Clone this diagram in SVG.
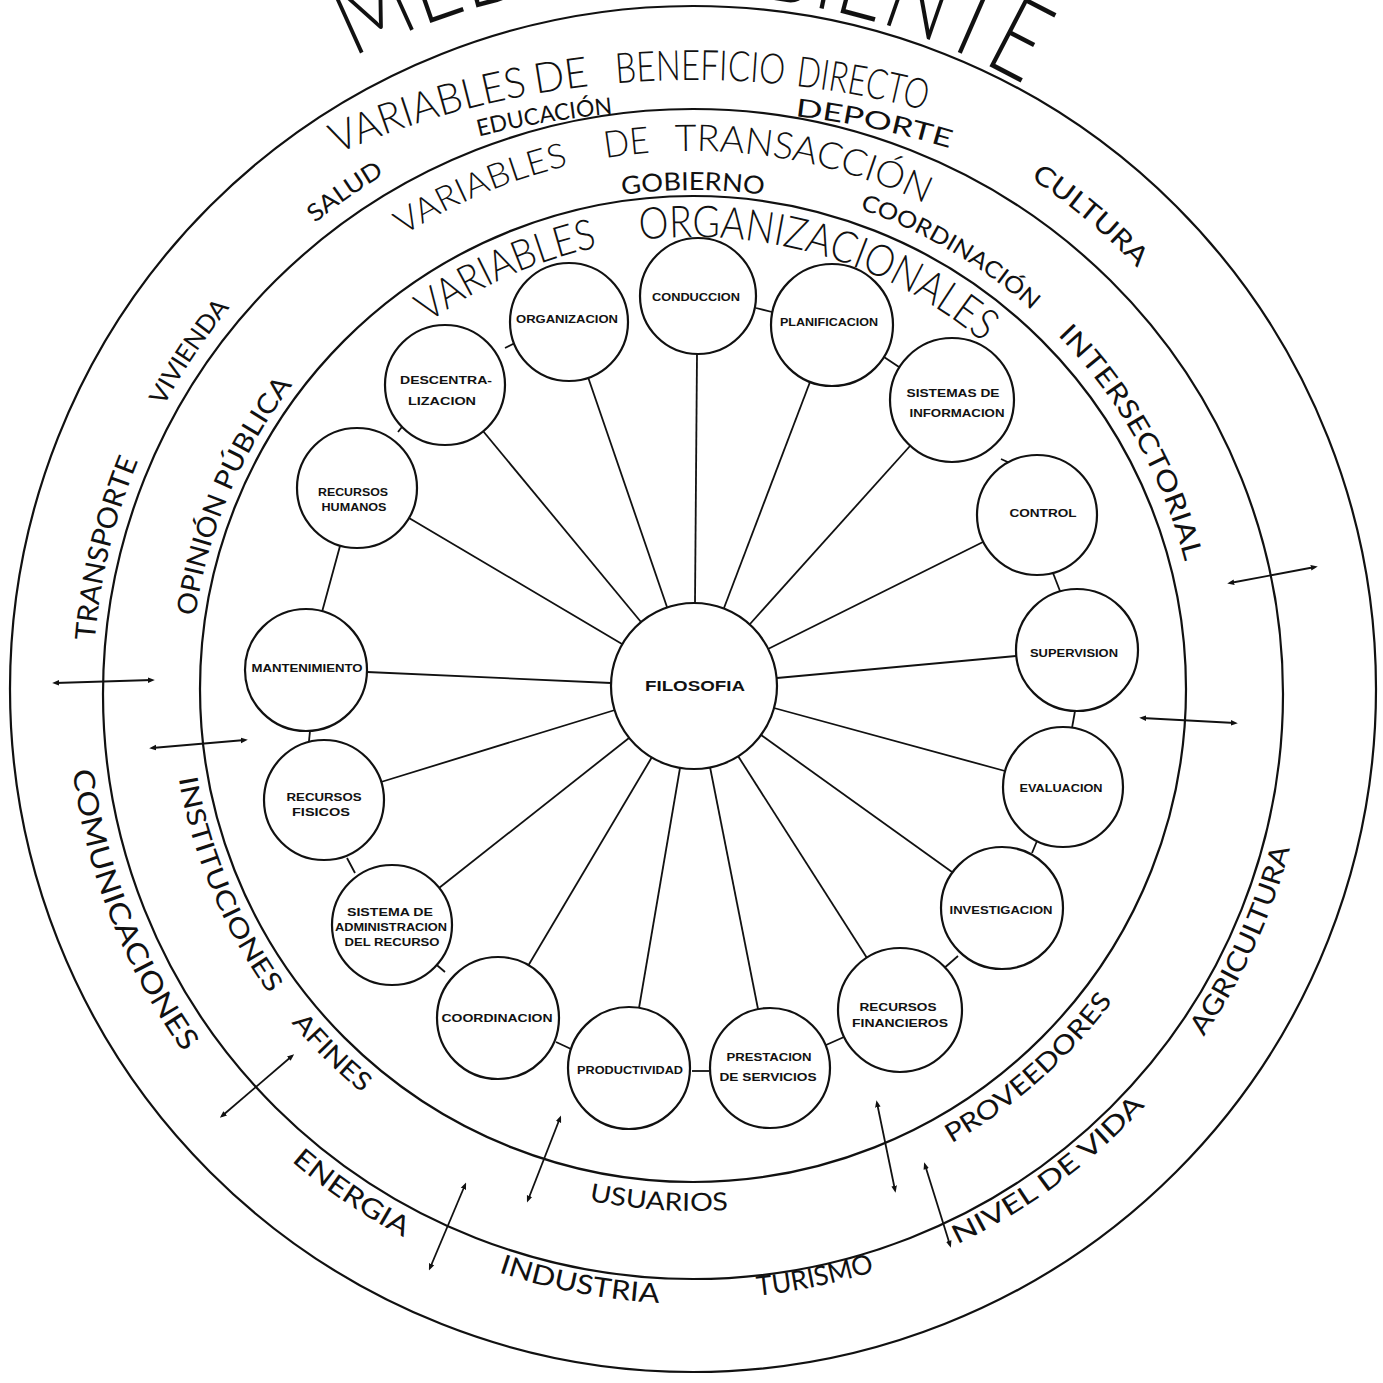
<svg xmlns="http://www.w3.org/2000/svg" width="1383" height="1383" viewBox="0 0 1383 1383">
  <style>
    .ring { fill: none; stroke: #111; stroke-width: 2.2; }
    .node circle { fill: #fff; stroke: #111; stroke-width: 2.2; }
    .lbl { font-family: 'Liberation Sans', Arial, sans-serif; font-weight: bold; font-size: 11px; fill: #111; text-anchor: middle; }
    .hub { font-size: 14px; }
    .arc { font-family: Lato, 'DejaVu Sans', 'Liberation Sans', sans-serif; font-weight: 400; fill: #111; text-anchor: middle; }
    .head { font-weight: 300; }
    .links line { stroke: #111; stroke-width: 1.8; fill: none; }
    .flows line { stroke: #111; stroke-width: 1.8; fill: none; marker-start: url(#tip); marker-end: url(#tip); }
  </style>
  <defs>
    <marker id="tip" viewBox="0 0 10 10" refX="6" refY="5" markerWidth="7" markerHeight="7" markerUnits="userSpaceOnUse" orient="auto-start-reverse">
      <path d="M0,1 L10,5 L0,9 z" fill="#111"/>
    </marker>
    <!-- clockwise guides: letters stand outward -->
    <path id="p-title" d="M -8.0 505.8 A 712 712 0 0 1 1367.4 505.8"/>
    <path id="p-title2" d="M -13.0 520.8 A 712 712 0 0 1 1362.4 520.8"/>
    <path id="p-benef" d="M -82.1 527.5 A 895 895 0 0 1 1468.1 527.5"/>
    <path id="p-top2" d="M -164.7 768.2 A 888 888 0 0 1 1550.7 768.2"/>
    <path id="p-salud" d="M 129.2 894.2 A 600 600 0 0 1 1078.7 229.4"/>
    <path id="p-cult" d="M 342.0 187.6 A 612 612 0 0 1 1247.7 947.6"/>
    <path id="p-transp" d="M 406.7 1216.3 A 600 600 0 0 1 677.3 89.2"/>
    <path id="p-viv" d="M 241.6 1084.2 A 600 600 0 0 1 886.4 121.0"/>
    <path id="p-trans" d="M 165.8 581.7 A 538 538 0 0 1 1203.2 518.3"/>
    <path id="p-gob" d="M 211.0 559.9 A 499 499 0 0 1 1175.0 559.9"/>
    <path id="p-coord" d="M 336.9 326.6 A 508 508 0 0 1 1182.5 824.7"/>
    <path id="p-inter" d="M 567.1 196.8 A 508 508 0 0 1 1048.1 1052.3"/>
    <path id="p-opin" d="M 384.7 1086.5 A 503 503 0 0 1 761.3 190.7"/>
    <path id="p-org" d="M 259.6 560.6 A 452 452 0 0 1 1132.5 583.5"/>
    <!-- counter-clockwise guides: letters stand inward -->
    <path id="p-comun" d="M 324.2 190.6 A 618 618 0 0 0 763.2 1305.0"/>
    <path id="p-energ" d="M 107.2 486.1 A 620 620 0 0 0 1098.9 1157.7"/>
    <path id="p-indus" d="M 79.7 734.0 A 615 615 0 0 0 1246.7 956.6"/>
    <path id="p-turis" d="M 148.0 963.1 A 610 610 0 0 0 1302.0 724.1"/>
    <path id="p-nivel" d="M 309.3 1169.6 A 615 615 0 0 0 1265.6 464.6"/>
    <path id="p-agri" d="M 589.9 1298.3 A 618 618 0 0 0 1086.9 212.8"/>
    <path id="p-inst" d="M 373.1 276.5 A 522 522 0 0 0 763.8 1206.2"/>
    <path id="p-afin" d="M 240.0 429.6 A 522 522 0 0 0 955.6 1140.2"/>
    <path id="p-usu" d="M 180.9 790.4 A 522 522 0 0 0 1187.1 857.2"/>
    <path id="p-prov" d="M 404.4 1125.1 A 523 523 0 0 0 1161.0 455.6"/>
  </defs>

  <rect width="1383" height="1383" fill="#fff"/>

  <!-- the three environment rings -->
  <g id="rings">
    <circle class="ring" cx="693" cy="689" r="683"/>
    <ellipse class="ring" cx="693" cy="694" rx="590" ry="585"/>
    <circle class="ring" cx="693" cy="689" r="493"/>
  </g>

  <!-- lettering set along the rings -->
  <g id="ring-labels">
    <!-- title above the outer ring -->
    <text class="arc head" font-size="110"><textPath href="#p-title" startOffset="730.7" textLength="278" lengthAdjust="spacingAndGlyphs">MEDIO</textPath></text>
    <text class="arc head" font-size="110"><textPath href="#p-title2" startOffset="1092" textLength="410" lengthAdjust="spacingAndGlyphs">AMBIENTE</textPath></text>

    <!-- outer ring: direct benefit -->
    <text class="arc head" font-size="42"><textPath href="#p-benef" startOffset="671.1" textLength="200" lengthAdjust="spacingAndGlyphs">VARIABLES</textPath></text>
    <text class="arc head" font-size="42"><textPath href="#p-benef" startOffset="806.2" textLength="54" lengthAdjust="spacingAndGlyphs">DE</textPath></text>
    <text class="arc head" font-size="42"><textPath href="#p-benef" startOffset="944.3" textLength="168" lengthAdjust="spacingAndGlyphs">BENEFICIO</textPath></text>
    <text class="arc head" font-size="42"><textPath href="#p-benef" startOffset="1105.7" textLength="132" lengthAdjust="spacingAndGlyphs">DIRECTO</textPath></text>
    <text class="arc" font-size="23"><textPath href="#p-top2" startOffset="1013.7" textLength="136" lengthAdjust="spacingAndGlyphs">EDUCACIÓN</textPath></text>
    <text class="arc" font-size="25"><textPath href="#p-top2" startOffset="1343.5" textLength="158" lengthAdjust="spacingAndGlyphs">DEPORTE</textPath></text>
    <text class="arc" font-size="24"><textPath href="#p-salud" startOffset="50%" textLength="85" lengthAdjust="spacingAndGlyphs">SALUD</textPath></text>
    <text class="arc" font-size="27"><textPath href="#p-cult" startOffset="50%" textLength="140" lengthAdjust="spacingAndGlyphs">CULTURA</textPath></text>
    <text class="arc" font-size="28"><textPath href="#p-transp" startOffset="50%" textLength="186" lengthAdjust="spacingAndGlyphs">TRANSPORTE</textPath></text>
    <text class="arc" font-size="25"><textPath href="#p-viv" startOffset="50%" textLength="119" lengthAdjust="spacingAndGlyphs">VIVIENDA</textPath></text>
    <text class="arc" font-size="29"><textPath href="#p-comun" startOffset="50%" textLength="306" lengthAdjust="spacingAndGlyphs">COMUNICACIONES</textPath></text>
    <text class="arc" font-size="27"><textPath href="#p-energ" startOffset="50%" textLength="136" lengthAdjust="spacingAndGlyphs">ENERGIA</textPath></text>
    <text class="arc" font-size="27"><textPath href="#p-indus" startOffset="50%" textLength="164" lengthAdjust="spacingAndGlyphs">INDUSTRIA</textPath></text>
    <text class="arc" font-size="27"><textPath href="#p-turis" startOffset="50%" textLength="120" lengthAdjust="spacingAndGlyphs">TURISMO</textPath></text>
    <text class="arc" font-size="26"><textPath href="#p-nivel" startOffset="50%" textLength="235" lengthAdjust="spacingAndGlyphs">NIVEL DE VIDA</textPath></text>
    <text class="arc" font-size="27"><textPath href="#p-agri" startOffset="50%" textLength="208" lengthAdjust="spacingAndGlyphs">AGRICULTURA</textPath></text>

    <!-- middle ring: transactions -->
    <text class="arc head" font-size="34"><textPath href="#p-trans" startOffset="521.1" textLength="180" lengthAdjust="spacingAndGlyphs">VARIABLES</textPath></text>
    <text class="arc head" font-size="37"><textPath href="#p-trans" startOffset="671.4" textLength="45" lengthAdjust="spacingAndGlyphs">DE</textPath></text>
    <text class="arc head" font-size="37"><textPath href="#p-trans" startOffset="847.9" textLength="258" lengthAdjust="spacingAndGlyphs">TRANSACCIÓN</textPath></text>
    <text class="arc" font-size="25"><textPath href="#p-gob" startOffset="50%" textLength="142" lengthAdjust="spacingAndGlyphs">GOBIERNO</textPath></text>
    <text class="arc" font-size="23"><textPath href="#p-coord" startOffset="50%" textLength="201" lengthAdjust="spacingAndGlyphs">COORDINACIÓN</textPath></text>
    <text class="arc" font-size="27"><textPath href="#p-inter" startOffset="50%" textLength="263" lengthAdjust="spacingAndGlyphs">INTERSECTORIAL</textPath></text>
    <text class="arc" font-size="27"><textPath href="#p-opin" startOffset="592.1" textLength="122" lengthAdjust="spacingAndGlyphs">OPINIÓN</textPath></text>
    <text class="arc" font-size="27"><textPath href="#p-opin" startOffset="722.9" textLength="124" lengthAdjust="spacingAndGlyphs">PÚBLICA</textPath></text>
    <text class="arc" font-size="26"><textPath href="#p-inst" startOffset="50%" textLength="236" lengthAdjust="spacingAndGlyphs">INSTITUCIONES</textPath></text>
    <text class="arc" font-size="26"><textPath href="#p-afin" startOffset="50%" textLength="100" lengthAdjust="spacingAndGlyphs">AFINES</textPath></text>
    <text class="arc" font-size="25"><textPath href="#p-usu" startOffset="50%" textLength="140" lengthAdjust="spacingAndGlyphs">USUARIOS</textPath></text>
    <text class="arc" font-size="26"><textPath href="#p-prov" startOffset="50%" textLength="217" lengthAdjust="spacingAndGlyphs">PROVEEDORES</textPath></text>

    <!-- inner ring: organisation -->
    <text class="arc head" font-size="42"><textPath href="#p-org" startOffset="390.1" textLength="187" lengthAdjust="spacingAndGlyphs">VARIABLES</textPath></text>
    <text class="arc head" font-size="44"><textPath href="#p-org" startOffset="710.4" textLength="368" lengthAdjust="spacingAndGlyphs">ORGANIZACIONALES</textPath></text>
  </g>

  <!-- connectors: spokes from the hub, links around the wheel, exchanges across the rings -->
  <g id="connectors">
    <g class="links">
      <!-- spokes -->
      <line x1="697" y1="354" x2="695" y2="603"/>
      <line x1="588" y1="377" x2="667" y2="607"/>
      <line x1="483" y1="431" x2="641" y2="622"/>
      <line x1="409" y1="518" x2="622" y2="644"/>
      <line x1="367" y1="672" x2="611" y2="683"/>
      <line x1="381" y1="782" x2="615" y2="710"/>
      <line x1="439" y1="888" x2="629" y2="738"/>
      <line x1="528" y1="966" x2="652" y2="757"/>
      <line x1="639" y1="1008" x2="680" y2="768"/>
      <line x1="758" y1="1009" x2="710" y2="767"/>
      <line x1="867" y1="958" x2="738" y2="756"/>
      <line x1="952" y1="872" x2="761" y2="735"/>
      <line x1="1005" y1="771" x2="774" y2="708"/>
      <line x1="1016" y1="656" x2="777" y2="678"/>
      <line x1="983" y1="542" x2="768" y2="649"/>
      <line x1="910" y1="446" x2="750" y2="624"/>
      <line x1="810" y1="382" x2="724" y2="608"/>
      <!-- links between neighbouring nodes -->
      <line x1="756" y1="308" x2="772" y2="312"/>
      <line x1="884" y1="357" x2="899" y2="367"/>
      <line x1="1001" y1="459" x2="1012" y2="464"/>
      <line x1="1053" y1="573" x2="1060" y2="591"/>
      <line x1="1075" y1="711" x2="1072" y2="728"/>
      <line x1="1037" y1="841" x2="1032" y2="853"/>
      <line x1="958" y1="956" x2="942" y2="970"/>
      <line x1="844" y1="1037" x2="826" y2="1045"/>
      <line x1="709" y1="1071" x2="692" y2="1071"/>
      <line x1="571" y1="1049" x2="556" y2="1042"/>
      <line x1="445" y1="972" x2="432" y2="961"/>
      <line x1="355" y1="873" x2="347" y2="858"/>
      <line x1="310" y1="731" x2="309" y2="741"/>
      <line x1="322" y1="612" x2="340" y2="546"/>
      <line x1="398" y1="432" x2="405" y2="423"/>
      <line x1="505" y1="348" x2="515" y2="343"/>
    </g>
    <g class="flows">
      <line x1="55" y1="683" x2="152" y2="680"/>
      <line x1="152" y1="748" x2="245" y2="740"/>
      <line x1="222" y1="1116" x2="292" y2="1056"/>
      <line x1="430" y1="1268" x2="465" y2="1185"/>
      <line x1="528" y1="1200" x2="560" y2="1118"/>
      <line x1="877" y1="1103" x2="895" y2="1190"/>
      <line x1="925" y1="1165" x2="950" y2="1245"/>
      <line x1="1230" y1="583" x2="1315" y2="567"/>
      <line x1="1142" y1="718" x2="1235" y2="723"/>
    </g>
  </g>

  <!-- hub -->
  <g id="n-filosofia" class="node">
    <circle cx="694" cy="686" r="83"/>
    <text class="lbl hub" x="695" y="691" textLength="100" lengthAdjust="spacingAndGlyphs">FILOSOFIA</text>
  </g>

  <!-- organisational variables -->
  <g id="n-conduccion" class="node">
    <circle cx="698" cy="296" r="58"/>
    <text class="lbl" x="696" y="301" textLength="88" lengthAdjust="spacingAndGlyphs">CONDUCCION</text>
  </g>
  <g id="n-organizacion" class="node">
    <circle cx="569" cy="322" r="59"/>
    <text class="lbl" x="567" y="323" textLength="102" lengthAdjust="spacingAndGlyphs">ORGANIZACION</text>
  </g>
  <g id="n-descentralizacion" class="node">
    <circle cx="445" cy="385" r="60"/>
    <text class="lbl" x="446" y="384" textLength="92" lengthAdjust="spacingAndGlyphs">DESCENTRA-</text>
    <text class="lbl" x="442" y="405" textLength="68" lengthAdjust="spacingAndGlyphs">LIZACION</text>
  </g>
  <g id="n-recursos-humanos" class="node">
    <circle cx="357" cy="488" r="60"/>
    <text class="lbl" x="353" y="496" textLength="70" lengthAdjust="spacingAndGlyphs">RECURSOS</text>
    <text class="lbl" x="354" y="511" textLength="65" lengthAdjust="spacingAndGlyphs">HUMANOS</text>
  </g>
  <g id="n-mantenimiento" class="node">
    <circle cx="306" cy="670" r="61"/>
    <text class="lbl" x="307" y="672" textLength="111" lengthAdjust="spacingAndGlyphs">MANTENIMIENTO</text>
  </g>
  <g id="n-recursos-fisicos" class="node">
    <circle cx="324" cy="800" r="60"/>
    <text class="lbl" x="324" y="801" textLength="75" lengthAdjust="spacingAndGlyphs">RECURSOS</text>
    <text class="lbl" x="321" y="816" textLength="58" lengthAdjust="spacingAndGlyphs">FISICOS</text>
  </g>
  <g id="n-sistema-administracion" class="node">
    <circle cx="392" cy="925" r="60"/>
    <text class="lbl" x="390" y="916" textLength="86" lengthAdjust="spacingAndGlyphs">SISTEMA DE</text>
    <text class="lbl" x="391" y="931" textLength="112" lengthAdjust="spacingAndGlyphs">ADMINISTRACION</text>
    <text class="lbl" x="392" y="946" textLength="95" lengthAdjust="spacingAndGlyphs">DEL RECURSO</text>
  </g>
  <g id="n-coordinacion" class="node">
    <circle cx="498" cy="1018" r="61"/>
    <text class="lbl" x="497" y="1022" textLength="111" lengthAdjust="spacingAndGlyphs">COORDINACION</text>
  </g>
  <g id="n-productividad" class="node">
    <circle cx="629" cy="1068" r="61"/>
    <text class="lbl" x="630" y="1074" textLength="106" lengthAdjust="spacingAndGlyphs">PRODUCTIVIDAD</text>
  </g>
  <g id="n-prestacion-servicios" class="node">
    <circle cx="770" cy="1068" r="60"/>
    <text class="lbl" x="769" y="1061" textLength="85" lengthAdjust="spacingAndGlyphs">PRESTACION</text>
    <text class="lbl" x="768" y="1081" textLength="97" lengthAdjust="spacingAndGlyphs">DE SERVICIOS</text>
  </g>
  <g id="n-recursos-financieros" class="node">
    <circle cx="900" cy="1010" r="62"/>
    <text class="lbl" x="898" y="1011" textLength="77" lengthAdjust="spacingAndGlyphs">RECURSOS</text>
    <text class="lbl" x="900" y="1027" textLength="96" lengthAdjust="spacingAndGlyphs">FINANCIEROS</text>
  </g>
  <g id="n-investigacion" class="node">
    <circle cx="1002" cy="908" r="61"/>
    <text class="lbl" x="1001" y="914" textLength="103" lengthAdjust="spacingAndGlyphs">INVESTIGACION</text>
  </g>
  <g id="n-evaluacion" class="node">
    <circle cx="1063" cy="787" r="60"/>
    <text class="lbl" x="1061" y="792" textLength="83" lengthAdjust="spacingAndGlyphs">EVALUACION</text>
  </g>
  <g id="n-supervision" class="node">
    <circle cx="1077" cy="650" r="61"/>
    <text class="lbl" x="1074" y="657" textLength="88" lengthAdjust="spacingAndGlyphs">SUPERVISION</text>
  </g>
  <g id="n-control" class="node">
    <circle cx="1037" cy="515" r="60"/>
    <text class="lbl" x="1043" y="517" textLength="67" lengthAdjust="spacingAndGlyphs">CONTROL</text>
  </g>
  <g id="n-sistemas-informacion" class="node">
    <circle cx="952" cy="400" r="62"/>
    <text class="lbl" x="953" y="397" textLength="93" lengthAdjust="spacingAndGlyphs">SISTEMAS DE</text>
    <text class="lbl" x="957" y="417" textLength="95" lengthAdjust="spacingAndGlyphs">INFORMACION</text>
  </g>
  <g id="n-planificacion" class="node">
    <circle cx="832" cy="325" r="61"/>
    <text class="lbl" x="829" y="326" textLength="98" lengthAdjust="spacingAndGlyphs">PLANIFICACION</text>
  </g>
</svg>
